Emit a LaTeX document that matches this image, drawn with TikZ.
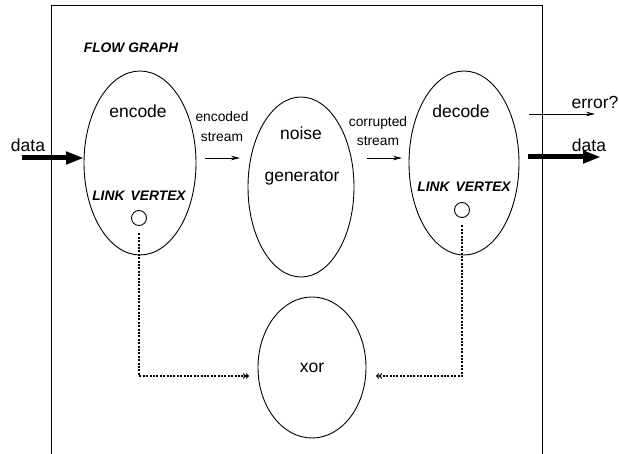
\documentclass[tikz,border=0pt]{standalone}
\usepackage{fontspec}
\setmainfont{Liberation Sans}
\usetikzlibrary{shapes.geometric,arrows.meta}
\tikzset{
  blob/.style={draw,ellipse,line width=0.9pt,inner sep=0pt,outer sep=0pt},
  big/.style={font=\fontsize{17.5}{20}\selectfont,inner sep=0pt},
  small/.style={font=\fontsize{13.8}{16}\selectfont,inner sep=0pt},
  tag/.style={font=\fontsize{13.8}{16}\selectfont\bfseries\itshape,inner sep=0pt},
  thick arrow/.style={line width=5pt,-{Triangle[length=18pt,width=12pt]}},
  thin arrow/.style={line width=0.8pt,-{Stealth[length=9pt,width=4.5pt]}},
  linkline/.style={line width=2.6pt,dash pattern=on 2pt off 1.4pt,-{Stealth[length=3pt,width=6pt]Stealth[length=3pt,width=6pt]}},
  frameline/.style={line width=0.9pt},
  vertexmark/.style={draw,circle,line width=0.9pt,minimum size=15pt,inner sep=0pt,outer sep=0pt}
}
\begin{document}
\begin{tikzpicture}[x=1pt,y=-1pt]
\useasboundingbox (0,0) rectangle (619,454);
% frame
\draw[frameline] (51,454) -- (51,5) -- (542,5) -- (542,454);
\node[tag] (fg) at (131,48) {FLOW GRAPH};
% ellipses
\node[blob,minimum width=112pt,minimum height=184pt] (enc) at (140,163) {};
\node[blob,minimum width=106pt,minimum height=180pt] (noi) at (301,187) {};
\node[blob,minimum width=110pt,minimum height=184pt] (dec) at (464,163) {};
\node[blob,minimum width=108pt,minimum height=141pt] (xor) at (312,367.5) {};
% texts
\node[big] (tenc) at (138,111) {encode};
\node[big] (tnoise) at (301,133) {noise};
\node[big] (tgen) at (302,178) {generator};
\node[big] (tdec) at (461,111) {decode};
\node[big] (txor) at (312,368) {xor};
\node[tag] (lv1) at (139,196) {LINK\hspace{0.45em}VERTEX};
\node[tag] (lv2) at (464,187) {LINK\hspace{0.45em}VERTEX};
\node[vertexmark] (c1) at (139,218) {};
\node[vertexmark] (c2) at (462,210) {};
\node[small] (te1) at (222,117) {encoded};
\node[small] (te2) at (222,137) {stream};
\node[small] (tc1) at (378,123) {corrupted};
\node[small] (tc2) at (378,141) {stream};
\node[big] (tdl) at (28,145) {data};
\node[big] (tdr) at (589,145) {data};
\node[big] (terr) at (595,102) {error?};
% coordinates
\coordinate (dl) at (22,158);
\coordinate (e1) at (205,158);
\coordinate (e2) at (240,158);
\coordinate (k1) at (367,158);
\coordinate (k2) at (402,158);
\coordinate (r1) at (528,157);
\coordinate (r2) at (601,157);
\coordinate (q1) at (529,114);
\coordinate (q2) at (595,114);
\coordinate (xl) at (249,376);
\coordinate (xr) at (376,376);
% arrows
\draw[thick arrow] (dl) -- (dl -| enc.west);
\draw[thick arrow] (r1) -- (r2);
\draw[thin arrow] (e1) -- (e2);
\draw[thin arrow] (k1) -- (k2);
\draw[thin arrow] (q1) -- (q2);
\draw[linkline,shorten <=8pt] (c1.south) |- (xl);
\draw[linkline,shorten <=8pt] (c2.south) |- (xr);
\end{tikzpicture}
\end{document}
